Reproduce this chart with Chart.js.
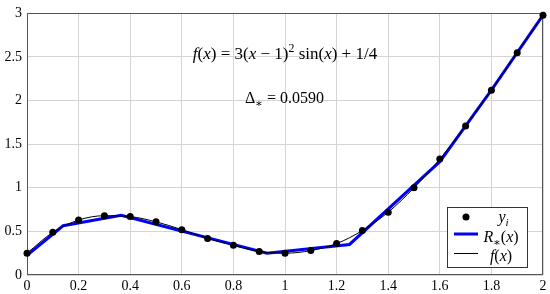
<!DOCTYPE html>
<html>
<head>
<meta charset="utf-8">
<script src="https://cdn.jsdelivr.net/npm/chart.js@4.4.0/dist/chart.umd.min.js"></script>
<style>
  html, body { margin: 0; padding: 0; background: #fff; }
</style>
</head>
<body>
<canvas id="grafico" width="550" height="294"></canvas>
<script>
// Datos
const xVals = [0, 0.1, 0.2, 0.3, 0.4, 0.5, 0.6, 0.7, 0.8, 0.9, 1, 1.1, 1.2, 1.3, 1.4, 1.5, 1.6, 1.7, 1.8, 1.9, 2];
const yiVals = [0.25, 0.49, 0.63, 0.68, 0.67, 0.61, 0.52, 0.42, 0.34, 0.27, 0.25, 0.28, 0.36, 0.51, 0.72, 1.0, 1.33, 1.71, 2.12, 2.55, 2.98];
const fVals = [0.25, 0.49, 0.63, 0.68, 0.67, 0.61, 0.52, 0.42, 0.34, 0.27, 0.25, 0.28, 0.36, 0.51, 0.72, 1.0, 1.33, 1.71, 2.12, 2.55, 2.98];
// Aproximación lineal a trozos R_*(x)
const rX = [0, 0.14, 0.365, 0.93, 1.25, 1.6, 1.8, 2];
const rY = [0.225, 0.565, 0.685, 0.25, 0.35, 1.3, 2.12, 2.98];

const FUENTE = '"Liberation Serif", "DejaVu Serif", serif';

function puntos(xs, ys) {
    return xs.map((x, i) => ({ x: x, y: ys[i] }));
}

function formatoTick(v) {
    return String(Number(v.toFixed(1)));
}

// Dibuja texto matemático: partes = [[texto, estilo], ...]
function dibujarMath(ctx, partes, cx, base, size) {
    const fuenteDe = (estilo) => {
        const peq = (estilo === 'sub' || estilo === 'sup' || estilo === 'subi');
        const ital = (estilo === 'i' || estilo === 'subi');
        return (ital ? 'italic ' : '') + (peq ? size * 0.7 : size) + 'px ' + FUENTE;
    };
    let total = 0;
    partes.forEach(p => {
        ctx.font = fuenteDe(p[1]);
        total += ctx.measureText(p[0]).width;
    });
    let x = cx - total / 2;
    ctx.textBaseline = 'alphabetic';
    ctx.textAlign = 'left';
    ctx.fillStyle = '#000';
    partes.forEach(p => {
        ctx.font = fuenteDe(p[1]);
        let dy = 0;
        if (p[1] === 'sub' || p[1] === 'subi') dy = size * 0.25;
        if (p[1] === 'sup') dy = -size * 0.4;
        ctx.fillText(p[0], x, base + dy);
        x += ctx.measureText(p[0]).width;
    });
}

const marcoYTextos = {
    id: 'marcoYTextos',
    beforeDatasetsDraw(chart) {
        const ctx = chart.ctx;
        const a = chart.chartArea;
        ctx.save();
        ctx.strokeStyle = '#555';
        ctx.lineWidth = 1;
        ctx.strokeRect(Math.round(a.left) + 0.5, Math.round(a.top) + 0.5,
            Math.round(a.right - a.left) - 1, Math.round(a.bottom - a.top) - 1);
        // textos de la función
        dibujarMath(ctx, [['f', 'i'], ['(', 'r'], ['x', 'i'], [') = 3(', 'r'], ['x', 'i'], [' \u2212 1)', 'r'],
            ['2', 'sup'], [' sin(', 'r'], ['x', 'i'], [') + 1/4', 'r']], 285, 58.5, 17);
        dibujarMath(ctx, [['\u0394', 'r'], ['\u2217', 'sub'], [' = 0.0590', 'r']], 284.5, 103, 16);
        ctx.restore();
    },
    afterDatasetsDraw(chart) {
        const ctx = chart.ctx;
        ctx.save();
        // leyenda
        ctx.fillStyle = '#fff';
        ctx.fillRect(447.5, 207.5, 80, 60);
        ctx.strokeStyle = '#333';
        ctx.lineWidth = 1;
        ctx.strokeRect(447.5, 207.5, 80, 60);

        ctx.fillStyle = '#000';
        ctx.beginPath();
        ctx.arc(466, 217, 3.5, 0, Math.PI * 2);
        ctx.fill();
        dibujarMath(ctx, [['y', 'i'], ['i', 'subi']], 503.5, 222, 16);

        ctx.strokeStyle = '#0000ff';
        ctx.lineWidth = 3;
        ctx.beginPath();
        ctx.moveTo(454, 234);
        ctx.lineTo(478, 234);
        ctx.stroke();
        dibujarMath(ctx, [['R', 'i'], ['\u2217', 'sub'], ['(', 'r'], ['x', 'i'], [')', 'r']], 501, 241.5, 16);

        ctx.strokeStyle = '#000';
        ctx.lineWidth = 1;
        ctx.beginPath();
        ctx.moveTo(454, 253.5);
        ctx.lineTo(478, 253.5);
        ctx.stroke();
        dibujarMath(ctx, [['f', 'i'], ['(', 'r'], ['x', 'i'], [')', 'r']], 501, 260.5, 16);
        ctx.restore();
    }
};

new Chart(document.getElementById('grafico').getContext('2d'), {
    type: 'line',
    data: {
        datasets: [
            {
                label: 'y_i',
                data: puntos(xVals, yiVals),
                showLine: false,
                pointRadius: 3.5,
                pointBackgroundColor: '#000',
                pointBorderColor: '#000',
                pointBorderWidth: 0,
                clip: false
            },
            {
                label: 'f(x)',
                data: puntos(xVals, fVals),
                borderColor: '#000',
                borderWidth: 1,
                pointRadius: 0,
                cubicInterpolationMode: 'monotone',
                fill: false,
                clip: false
            },
            {
                label: 'R_*(x)',
                data: puntos(rX, rY),
                borderColor: '#0000ff',
                borderWidth: 3,
                pointRadius: 0,
                tension: 0,
                fill: false,
                clip: false
            }
        ]
    },
    options: {
        responsive: false,
        animation: false,
        layout: { padding: { top: 8, right: 7, left: 0, bottom: 0 } },
        plugins: {
            legend: { display: false },
            tooltip: { enabled: false }
        },
        scales: {
            x: {
                type: 'linear',
                min: 0,
                max: 2,
                grid: { color: '#d4d4d4', drawTicks: false },
                border: { display: false },
                ticks: {
                    stepSize: 0.2,
                    padding: 3,
                    maxRotation: 0,
                    autoSkip: false,
                    color: '#000',
                    font: { family: FUENTE, size: 14 },
                    callback: formatoTick
                },
                afterFit: (s) => { s.height = 19; }
            },
            y: {
                type: 'linear',
                min: 0,
                max: 3,
                grid: { color: '#d4d4d4', drawTicks: false },
                border: { display: false },
                ticks: {
                    stepSize: 0.5,
                    padding: 5,
                    color: '#000',
                    font: { family: FUENTE, size: 14 },
                    callback: formatoTick
                },
                afterFit: (s) => { s.width = 27; }
            }
        }
    },
    plugins: [marcoYTextos]
});
</script>
</body>
</html>
